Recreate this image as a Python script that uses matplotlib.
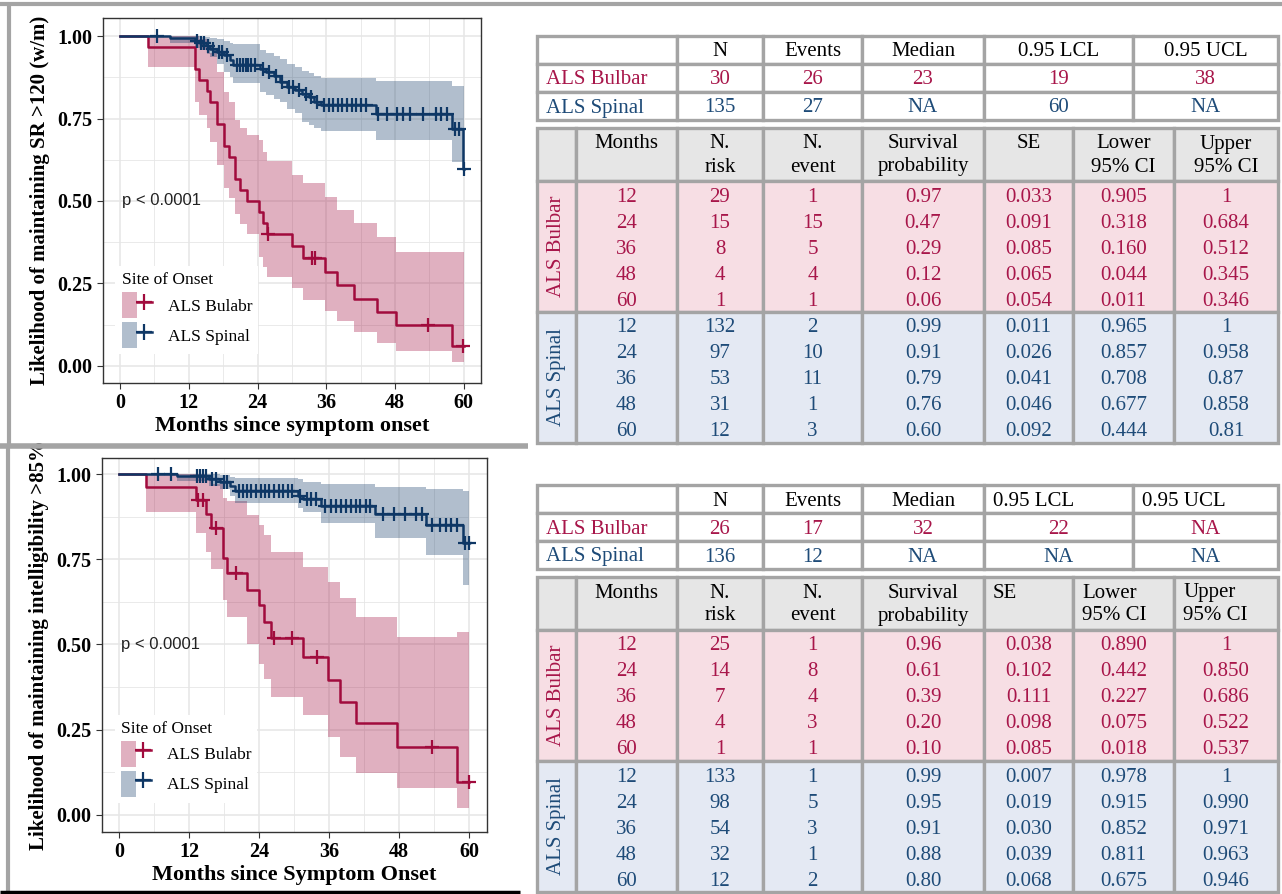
import numpy as np
import matplotlib.pyplot as plt
from matplotlib.patches import Rectangle, Patch
from matplotlib.lines import Line2D
from matplotlib.legend_handler import HandlerTuple

plt.rcParams['font.family'] = ['Liberation Serif', 'DejaVu Serif']

" DATA "

# speaking rate > 120 w/m panel (steps)
sr_bul_t = [0, 4.8, 13.0, 13.8, 15.1, 15.7, 16.9, 18.1, 19.0, 20.1, 21.0, 22.2, 24.2, 25.0, 25.6, 30.0, 32.0, 35.8, 37.9, 40.8, 44.9, 48.1, 58.0]
sr_bul_s = [1, .967, .900, .867, .833, .800, .733, .667, .633, .567, .533, .500, .467, .433, .400, .364, .327, .286, .245, .204, .163, .123, .061]
sr_bul_lo = [1, .905, .80, .76, .72, .68, .61, .54, .51, .46, .43, .40, .33, .30, .27, .235, .20, .165, .135, .104, .069, .044, .011]
sr_bul_hi = [1, 1, 1, .99, .97, .95, .89, .83, .80, .745, .72, .70, .684, .65, .62, .58, .555, .512, .473, .433, .392, .345, .346]
sr_bul_cens = [25.9, 33.5, 34.0, 53.8, 59.8]

sr_spi_t = [0, 8.7, 13.0, 14.0, 15.1, 15.7, 16.9, 18.1, 19.2, 19.8, 24.5, 25.5, 26.8, 28.0, 29.2, 30.6, 31.8, 33.0, 33.8, 35.0, 44.6, 58.0, 59.9]
sr_spi_s = [1, .993, .985, .978, .970, .962, .952, .942, .927, .911, .901, .890, .880, .862, .846, .836, .826, .815, .800, .791, .763, .718, .597]
sr_spi_lo = [1, .98, .965, .958, .947, .937, .917, .892, .877, .857, .831, .822, .81, .80, .78, .766, .74, .73, .72, .712, .685, .619, .619]
sr_spi_hi = [1, 1, 1, .998, .996, .994, .99, .985, .98, .975, .958, .95, .94, .93, .915, .905, .895, .888, .88, .872, .865, .848, .848]
sr_spi_cens = [6.5, 13.5, 14.2, 14.6, 15.3, 16.2, 17.3, 17.8, 18.6, 20.4, 20.9, 21.4, 21.9, 22.4, 22.9, 23.6,
               25.0, 26.0, 27.3, 28.3, 29.5, 30.2, 31.2, 32.4, 33.3, 34.3, 35.6, 36.4, 37.2, 38.0, 38.8, 39.6,
               40.4, 41.2, 42.1, 43.0, 45.0, 46.6, 48.4, 49.3, 50.6, 52.8, 55.1, 56.1, 57.1, 58.5, 59.1, 60.0]

# intelligibility > 85% panel
it_bul_t = [0, 4.7, 13.2, 15.0, 15.8, 17.9, 18.6, 21.9, 24.0, 24.9, 26.1, 31.6, 35.9, 37.9, 40.7, 47.6, 57.9]
it_bul_s = [1, .962, .923, .884, .841, .753, .709, .660, .616, .567, .518, .464, .396, .332, .269, .200, .098]
it_bul_lo = [1, .89, .828, .77, .72, .63, .58, .50, .442, .40, .347, .293, .23, .171, .124, .078, .02]
it_bul_hi = [1, 1, 1, .99, .97, .93, .92, .88, .85, .82, .772, .728, .684, .635, .581, .523, .537]
it_bul_cens = [13.6, 14.4, 16.6, 20.0, 26.5, 29.6, 33.9, 53.6, 60.0]

it_spi_t = [0, 9.9, 15.5, 17.3, 19.0, 19.9, 30.7, 31.6, 34.7, 43.9, 52.7, 58.9]
it_spi_s = [1, .993, .985, .977, .966, .950, .937, .926, .906, .883, .851, .797]
it_spi_lo = [1, .98, .965, .955, .935, .915, .90, .89, .855, .811, .762, .674]
it_spi_hi = [1, 1, 1, .998, .992, .988, .985, .978, .972, .962, .955, .95]
it_spi_cens = [6.7, 8.9, 13.4, 13.9, 14.4, 14.9, 16.0, 16.6, 18.0, 18.5, 20.5, 21.3, 22.0, 22.7, 23.5, 24.3,
               25.0, 25.8, 26.6, 27.4, 28.1, 28.9, 29.7, 31.0, 32.2, 33.0, 33.8, 35.4, 36.3, 37.2, 38.0, 38.9,
               39.8, 40.6, 41.4, 42.3, 43.1, 45.3, 47.2, 49.1, 51.0, 51.9, 53.6, 55.0, 56.0, 57.0, 57.9, 59.3, 60.0]

t_end = 60

# tables
summ_head = ['', 'N', 'Events', 'Median', '0.95 LCL', '0.95 UCL']
life_head1 = ['', 'Months', 'N.', 'N.', 'Survival', 'SE', 'Lower', 'Upper']
life_head2 = ['', '', 'risk', 'event', 'probability', '', '95% CI', '95% CI']
months = ['12', '24', '36', '48', '60']

sr_summ_bul = ['ALS Bulbar', '30', '26', '23', '19', '38']
sr_summ_spi = ['ALS Spinal', '135', '27', 'NA', '60', 'NA']
sr_life_bul = [['29', '15', '8', '4', '1'], ['1', '15', '5', '4', '1'],
               ['0.97', '0.47', '0.29', '0.12', '0.06'], ['0.033', '0.091', '0.085', '0.065', '0.054'],
               ['0.905', '0.318', '0.160', '0.044', '0.011'], ['1', '0.684', '0.512', '0.345', '0.346']]
sr_life_spi = [['132', '97', '53', '31', '12'], ['2', '10', '11', '1', '3'],
               ['0.99', '0.91', '0.79', '0.76', '0.60'], ['0.011', '0.026', '0.041', '0.046', '0.092'],
               ['0.965', '0.857', '0.708', '0.677', '0.444'], ['1', '0.958', '0.87', '0.858', '0.81']]

it_summ_bul = ['ALS Bulbar', '26', '17', '32', '22', 'NA']
it_summ_spi = ['ALS Spinal', '136', '12', 'NA', 'NA', 'NA']
it_life_bul = [['25', '14', '7', '4', '1'], ['1', '8', '4', '3', '1'],
               ['0.96', '0.61', '0.39', '0.20', '0.10'], ['0.038', '0.102', '0.111', '0.098', '0.085'],
               ['0.890', '0.442', '0.227', '0.075', '0.018'], ['1', '0.850', '0.686', '0.522', '0.537']]
it_life_spi = [['133', '98', '54', '32', '12'], ['1', '5', '3', '1', '2'],
               ['0.99', '0.95', '0.91', '0.88', '0.80'], ['0.007', '0.019', '0.030', '0.039', '0.068'],
               ['0.978', '0.915', '0.852', '0.811', '0.675'], ['1', '0.990', '0.971', '0.963', '0.946']]

" STYLE "
W, H = 1282, 894
bul_line, bul_txt = '#a10b3d', '#a8164a'
spi_line, spi_txt = '#0e3765', '#1e4b78'
grid_c = '#e6e6e6'
border_c = '#a4a4a4'


def km_panel(ax, curves, ylabel, xlabel, xlim, ylim):
    for t, s, lo, hi, cens, col in curves:
        tt = np.append(t, t_end)
        ax.fill_between(tt, np.append(lo, lo[-1]), np.append(hi, hi[-1]), step='post',
                        color=col, alpha=0.32, lw=0)
    for t, s, lo, hi, cens, col in curves:
        tt = np.append(t, t_end)
        ss = np.append(s, s[-1])
        ax.step(tt, ss, where='post', color=col, lw=1.8)
        idx = np.searchsorted(t, cens, side='right') - 1
        ax.plot(cens, np.array(s)[idx], '+', color=col, ms=10, mew=1.6)
    ax.set_xlim(*xlim)
    ax.set_ylim(*ylim)
    ax.set_xticks(range(0, 61, 12))
    ax.set_xticks(range(6, 61, 12), minor=True)
    ax.set_yticks([0, .25, .5, .75, 1])
    ax.set_yticks([.125, .375, .625, .875], minor=True)
    ax.set_xticklabels([str(v) for v in range(0, 61, 12)], fontweight='bold', fontsize=14.5)
    ax.set_yticklabels(['0.00', '0.25', '0.50', '0.75', '1.00'], fontweight='bold', fontsize=14.5)
    ax.grid(which='major', color=grid_c, lw=1.1)
    ax.grid(which='minor', color=grid_c, lw=0.6)
    ax.set_axisbelow(True)
    ax.tick_params(which='major', length=4, color='#333333', direction='out')
    ax.tick_params(which='minor', length=0)
    for sp in ax.spines.values():
        sp.set_color('#333333')
        sp.set_linewidth(1.0)
    ax.set_xlabel(xlabel, fontweight='bold', fontsize=16, labelpad=2)
    ax.set_ylabel(ylabel, fontweight='bold', fontsize=15, labelpad=5)
    ax.text(0.3, 0.5, 'p < 0.0001', family=['Liberation Sans', 'DejaVu Sans'], fontsize=12,
            va='center', ha='left', color='#222222')
    handles = [(Patch(facecolor=bul_line, alpha=0.32, lw=0),
                Line2D([], [], color=bul_line, lw=1.8, marker='+', ms=11, mew=1.6)),
               (Patch(facecolor=spi_line, alpha=0.32, lw=0),
                Line2D([], [], color=spi_line, lw=1.8, marker='+', ms=11, mew=1.6))]
    ax.legend(handles, ['ALS Bulabr', 'ALS Spinal'], handler_map={tuple: HandlerTuple(ndivide=None, pad=0)},
              loc='lower left', bbox_to_anchor=(0.01, 0.055), title='Site of Onset',
              fontsize=12.5, title_fontsize=12.5, handlelength=1.75, handleheight=1.9,
              labelspacing=0.25, handletextpad=0.9, borderpad=0.35, alignment='left',
              frameon=True, framealpha=1, edgecolor='none', facecolor='white', fancybox=False)


fig = plt.figure(figsize=(W / 100, H / 100), dpi=100)
bg = fig.add_axes([0, 0, 1, 1])
bg.set_xlim(0, W)
bg.set_ylim(H, 0)
bg.axis('off')

ax1 = fig.add_axes([103 / W, 1 - 383 / H, 378 / W, 365 / H])
km_panel(ax1, [(sr_bul_t, sr_bul_s, sr_bul_lo, sr_bul_hi, sr_bul_cens, bul_line),
               (sr_spi_t, sr_spi_s, sr_spi_lo, sr_spi_hi, sr_spi_cens, spi_line)],
         'Likelihood of maintaining SR >120 (w/m)', 'Months since symptom onset',
         (-2.97, 63.0), (-0.052, 1.055))

ax2 = fig.add_axes([102 / W, 1 - 832 / H, 385 / W, 374 / H])
km_panel(ax2, [(it_bul_t, it_bul_s, it_bul_lo, it_bul_hi, it_bul_cens, bul_line),
               (it_spi_t, it_spi_s, it_spi_lo, it_spi_hi, it_spi_cens, spi_line)],
         'Likelihood of maintaining intelligibility >85%', 'Months since Symptom Onset',
         (-2.91, 63.1), (-0.05, 1.047))

" TABLES "
SUM_X = [537, 677, 763, 862, 984, 1133, 1278]
LIFE_X = [537, 576, 677, 763, 862, 984, 1073, 1174, 1278]
FS = 15
DY = 2  # small baseline nudge


def cell_text(x0, x1, y, s, color, left=False):
    if left:
        bg.text(x0 + 9, y + DY, s, ha='left', va='center', fontsize=FS, color=color)
    else:
        bg.text((x0 + x1) / 2, y + DY, s, ha='center', va='center', fontsize=FS, color=color)


def draw_block(top_s, top_l, summ_b, summ_s, life_b, life_s, left_s, left_l):
    # summary table
    rows = [(summ_head, 'black'), (summ_b, bul_txt), (summ_s, spi_txt)]
    for r, (vals, col) in enumerate(rows):
        y0 = top_s + r * 28
        for c in range(len(SUM_X) - 1):
            bg.add_patch(Rectangle((SUM_X[c], y0), SUM_X[c + 1] - SUM_X[c], 28, facecolor='white',
                                   edgecolor=border_c, lw=2.4))
            cell_text(SUM_X[c], SUM_X[c + 1], y0 + 14, vals[c], col,
                      left=(c == 0) or (r == 0 and c in left_s))
    # life table header
    for c in range(len(LIFE_X) - 1):
        bg.add_patch(Rectangle((LIFE_X[c], top_l), LIFE_X[c + 1] - LIFE_X[c], 53, facecolor='#e6e6e6',
                               edgecolor=border_c, lw=2.4))
        lf = c in left_l
        cell_text(LIFE_X[c], LIFE_X[c + 1], top_l + 14, life_head1[c], 'black', left=lf)
        cell_text(LIFE_X[c], LIFE_X[c + 1], top_l + 37, life_head2[c], 'black', left=lf)
    # groups
    groups = [('ALS Bulbar', life_b, bul_txt, '#f7dee4'), ('ALS Spinal', life_s, spi_txt, '#e4e9f3')]
    for g, (name, vals, col, face) in enumerate(groups):
        y0 = top_l + 53 + g * 131
        for c in range(len(LIFE_X) - 1):
            bg.add_patch(Rectangle((LIFE_X[c], y0), LIFE_X[c + 1] - LIFE_X[c], 131, facecolor=face,
                                   edgecolor=border_c, lw=2.4))
        bg.text((LIFE_X[0] + LIFE_X[1]) / 2, y0 + 65, name, rotation=90, ha='center', va='center',
                fontsize=FS, color=col)
        for i in range(5):
            yc = y0 + 14 + i * 26
            cell_text(LIFE_X[1], LIFE_X[2], yc, months[i], col)
            for k in range(6):
                cell_text(LIFE_X[k + 2], LIFE_X[k + 3], yc, vals[k][i], col)


draw_block(36, 128, sr_summ_bul, sr_summ_spi, sr_life_bul, sr_life_spi, [], [])
draw_block(485, 577, it_summ_bul, it_summ_spi, it_life_bul, it_life_spi, [4, 5], [5, 6, 7])


def frame_line(x0, x1, y0, y1, color, lw):
    fig.add_artist(Line2D([x0 / W, x1 / W], [1 - y0 / H, 1 - y1 / H], transform=fig.transFigure,
                          color=color, lw=lw, solid_capstyle='butt'))


frame_line(0, W, 4, 4, border_c, 3)
frame_line(9, 9, 4, 445, border_c, 3)
frame_line(0, 528, 446, 446, border_c, 4)
frame_line(8, 8, 446, 891, border_c, 3)
frame_line(0, 520, 892, 892, 'black', 2.5)

fig.savefig('out.png', dpi=100)
